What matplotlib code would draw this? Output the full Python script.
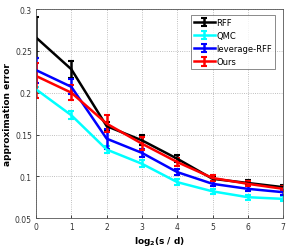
import matplotlib
matplotlib.use("Agg")
import matplotlib.pyplot as plt
import numpy as np

x = [0, 1, 2, 3, 4, 5, 6, 7]
xticklabels = ["0", "1", "2", "3", "4", "5", "6", "7"]
yticks = [0.05, 0.1, 0.15, 0.2, 0.25, 0.3]
yticklabels = ["0.05", "0.1", "0.15", "0.2", "0.25", "0.3"]

rff = [0.266, 0.228, 0.160, 0.143, 0.121, 0.097, 0.092, 0.087]
rff_err = [0.024, 0.010, 0.005, 0.006, 0.004, 0.003, 0.003, 0.003]
qmc = [0.204, 0.173, 0.132, 0.115, 0.093, 0.082, 0.075, 0.073]
qmc_err = [0.003, 0.005, 0.004, 0.004, 0.004, 0.003, 0.003, 0.003]
lev = [0.227, 0.207, 0.145, 0.128, 0.105, 0.091, 0.085, 0.081]
lev_err = [0.015, 0.009, 0.012, 0.005, 0.004, 0.003, 0.003, 0.003]
ours = [0.220, 0.200, 0.163, 0.139, 0.117, 0.098, 0.091, 0.085]
ours_lo = [0.026, 0.009, 0.010, 0.008, 0.005, 0.004, 0.003, 0.003]
ours_hi = [0.016, 0.009, 0.010, 0.008, 0.005, 0.004, 0.003, 0.003]

series = [
    ("RFF", rff, rff_err, "black"),
    ("QMC", qmc, qmc_err, "cyan"),
    ("leverage-RFF", lev, lev_err, "blue"),
    ("Ours", ours, [ours_lo, ours_hi], "red"),
]

fig = plt.figure(figsize=(2.91, 2.53), dpi=100)
ax = fig.add_axes([0.124, 0.134, 0.849, 0.826])
for name, y, e, c in series:
    ax.errorbar(x, y, yerr=e, color=c, lw=1.8, elinewidth=1.8, capsize=2.5,
                capthick=1.5, label=name)

ax.set_xlim(0, 7)
ax.set_ylim(0.05, 0.3)
ax.set_xticks(x)
ax.set_xticklabels(xticklabels)
ax.set_yticks(yticks)
ax.set_yticklabels(yticklabels)
ax.tick_params(labelsize=5.5, length=2, width=0.5, direction="in", pad=3,
               labelcolor="#333333")
ax.grid(True, linestyle=":", color="#aaaaaa", lw=0.6)
for s in ax.spines.values():
    s.set_linewidth(0.6)
    s.set_color("#555555")
ax.set_xlabel(r"$\mathbf{log_2(s\ /\ d)}$", fontsize=6.5, labelpad=2)
ax.set_ylabel("approximation error", fontsize=6.5, fontweight="bold", labelpad=2)
leg = ax.legend(loc="upper right", bbox_to_anchor=(0.968, 0.972), fontsize=6,
                frameon=True, fancybox=False,
                edgecolor="#555555", borderpad=0.35, labelspacing=0.5,
                handlelength=2.6, handletextpad=0.15, borderaxespad=0.0)
leg.get_frame().set_linewidth(0.6)
fig.savefig("out.png", dpi=100)
